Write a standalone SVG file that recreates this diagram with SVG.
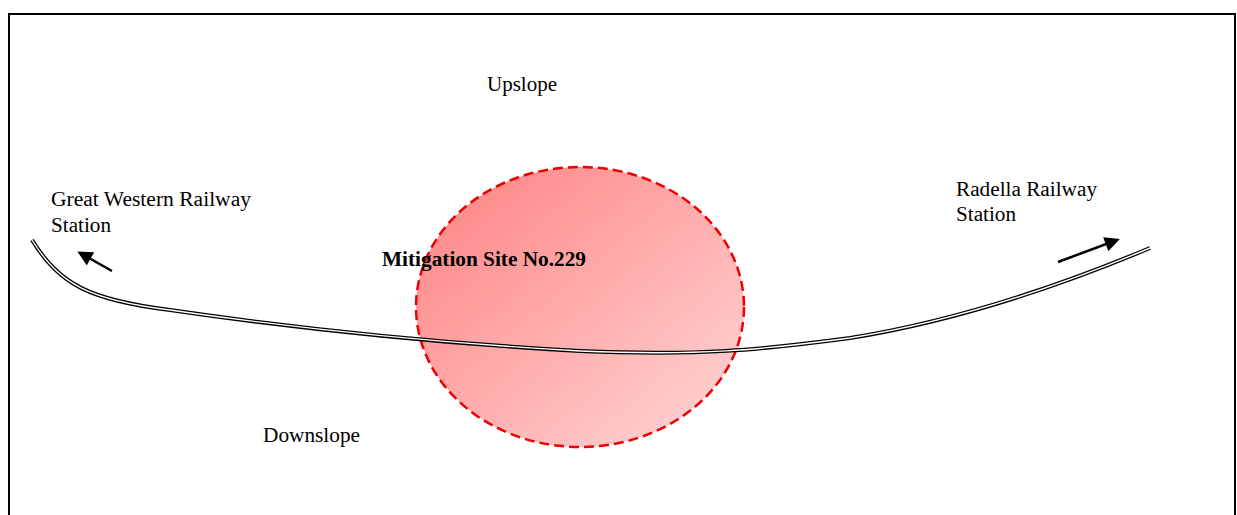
<svg xmlns="http://www.w3.org/2000/svg" width="1237" height="515" viewBox="0 0 1237 515">
<style>
text{font-family:"Liberation Serif","Times New Roman",serif;font-size:20px;fill:#000}
.b{font-weight:bold}
.rail1{fill:none;stroke:#000;stroke-width:4}
.rail2{fill:none;stroke:#fff;stroke-width:1.4}
.arr{stroke:#000;stroke-width:2.5;fill:none}
</style>
<defs>
<linearGradient id="g" x1="0" y1="0" x2="1" y2="1">
<stop offset="0" stop-color="#ff8080"/>
<stop offset="1" stop-color="#ffd8d8"/>
</linearGradient>
<marker id="ah" viewBox="0 0 10 10" refX="8" refY="5" markerWidth="6.5" markerHeight="6" orient="auto" markerUnits="strokeWidth">
<path d="M0,0 L10,5 L0,10 Z" fill="#000"/>
</marker>
</defs>
<rect width="1237" height="515" fill="#fff"/>
<path d="M9,520 L9,14 L1235,14 L1235,520" fill="none" stroke="#000" stroke-width="2"/>
<g id="site">
<ellipse cx="580" cy="307" rx="164" ry="140" fill="url(#g)" stroke="#ee0000" stroke-width="2.5" stroke-dasharray="10,5"/>
<text class="b" x="382" y="266" textLength="204" lengthAdjust="spacingAndGlyphs">Mitigation Site No.229</text>
</g>
<g id="connectors">
<path class="rail1" d="M32,240 C60,285 90,300 170,310 C280,326 420,342 580,351 C700,356 760,350 850,338 C950,322 1050,290 1150,248"/>
<path class="rail2" d="M32,240 C60,285 90,300 170,310 C280,326 420,342 580,351 C700,356 760,350 850,338 C950,322 1050,290 1150,248"/>
<line class="arr" x1="112" y1="271" x2="80" y2="253" marker-end="url(#ah)"/>
<line class="arr" x1="1058" y1="262" x2="1117" y2="240" marker-end="url(#ah)"/>
</g>
<g id="labels">
<text x="487" y="91" textLength="70" lengthAdjust="spacingAndGlyphs">Upslope</text>
<text x="51" y="206" textLength="200" lengthAdjust="spacingAndGlyphs">Great Western Railway</text>
<text x="51" y="232" textLength="60" lengthAdjust="spacingAndGlyphs">Station</text>
<text x="956" y="196" textLength="141" lengthAdjust="spacingAndGlyphs">Radella Railway</text>
<text x="956" y="221" textLength="60" lengthAdjust="spacingAndGlyphs">Station</text>
<text x="263" y="442" textLength="97" lengthAdjust="spacingAndGlyphs">Downslope</text>
</g>
</svg>
